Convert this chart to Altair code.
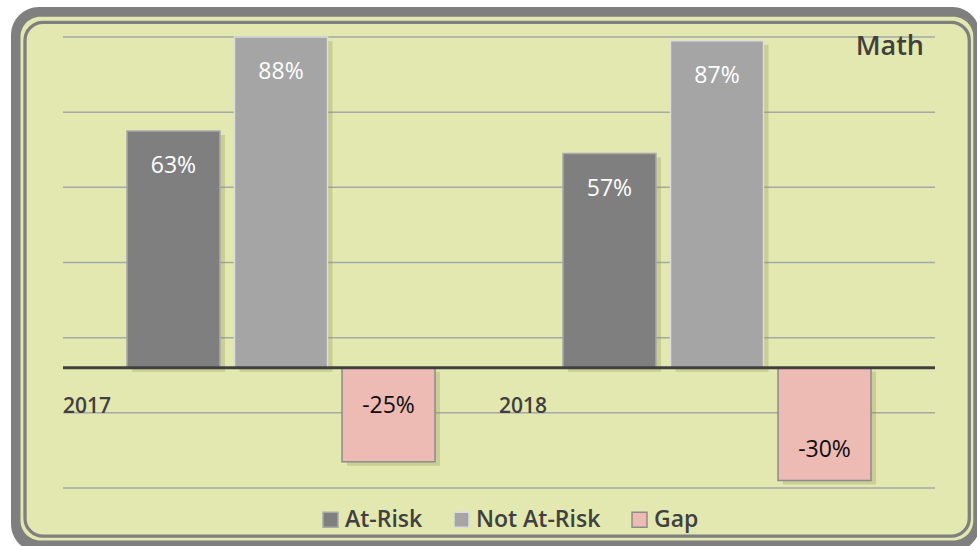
import altair as alt
import pandas as pd

# ---- data ----
years = ["2017", "2018"]
series = ["At-Risk", "Not At-Risk", "Gap"]
at_risk = [0.63, 0.57]
not_at_risk = [0.88, 0.87]
gap = [-0.25, -0.30]
grid_values = [0.88, 0.68, 0.48, 0.28, 0.08, -0.12, -0.32]
title_text = "Math"

rows = []
for i, yr in enumerate(years):
    for s, vals in zip(series, [at_risk, not_at_risk, gap]):
        rows.append({"year": yr, "series": s, "value": vals[i]})
df = pd.DataFrame(rows)
one = pd.DataFrame({"k": [0]})

# ---- styles ----
FONT = "Open Sans"
fills = ["#7F7F7F", "#A5A5A5", "#EDBAB4"]
strokes = ["#A9A9A9", "#DCDCDC", "#8C8C8C"]
BG = "#E2E8AF"
FRAME = "#7F7F7F"
TXT = "#404040"
W, H = 872, 451

yscale = alt.Scale(domain=[-0.32, 0.88], nice=False)
xscale = alt.Scale(domain=years, paddingInner=0, paddingOuter=0)


def off(shift=0):
    kw = dict(type="band", domain=series, paddingInner=0.135, paddingOuter=0.595)
    if shift:
        kw["range"] = [shift, W / 2 + shift]
    return alt.Scale(**kw)


xaxis = alt.Axis(title=None, domain=False, ticks=False, tickSize=0, grid=False,
                 labelAngle=0, labelAlign="left", labelOffset=-W / 4, offset=-120,
                 labelPadding=38, labelBaseline="middle", labelFont=FONT,
                 labelFontSize=21, labelFontWeight=600, labelColor=TXT, zindex=1)
X = alt.X("year:N", scale=xscale, axis=xaxis, sort=years)
Y = alt.Y("value:Q", scale=yscale, axis=None)


def frame_rect(x1, x2, y1, y2, **kw):
    return alt.Chart(one).mark_rect(**kw).encode(
        x=alt.value(x1), x2=alt.value(x2), y=alt.value(y1), y2=alt.value(y2))


frame_outer = frame_rect(-52, 917, -30, 515, fill=FRAME, cornerRadius=28)
frame_light = frame_rect(-42.5, 910.3, -20.3, 503.5, fill=BG, cornerRadius=20)
frame_inner = frame_rect(-38, 906.3, -14.7, 499.2, fill=BG, stroke=FRAME,
                         strokeWidth=3.3, cornerRadius=18)

grid = alt.Chart(pd.DataFrame({"g": grid_values})).mark_rule(
    color="#A4A8A6", strokeWidth=1.5).encode(
    y=alt.Y("g:Q", scale=yscale, axis=None))

shadow = alt.Chart(df).mark_bar(color="#8E9350", opacity=0.3, yOffset=4, y2Offset=4).encode(
    x=X, xOffset=alt.XOffset("series:N", scale=off(5), sort=series),
    y=Y, y2=alt.datum(0))

legend = alt.Legend(title=None, orient="none", legendX=256, legendY=471,
                    direction="horizontal", symbolType="square", symbolSize=225,
                    symbolStrokeWidth=1.5, labelFont=FONT, labelFontSize=23,
                    labelFontWeight=600, labelColor=TXT, labelOffset=3,
                    columnPadding=27)

bars = alt.Chart(df).mark_bar(strokeWidth=1.5).encode(
    x=X, xOffset=alt.XOffset("series:N", scale=off(), sort=series),
    y=Y, y2=alt.datum(0),
    color=alt.Color("series:N", scale=alt.Scale(domain=series, range=fills), legend=legend),
    stroke=alt.Stroke("series:N", scale=alt.Scale(domain=series, range=strokes), legend=legend),
)

zero = alt.Chart(one).mark_rule(color="#404040", strokeWidth=3).encode(
    y=alt.Y("z:Q", scale=yscale, axis=None)).transform_calculate(z="0")


def labels(filt, dy, color):
    return alt.Chart(df).transform_filter(filt).transform_calculate(
        lbl="replace(format(datum.value, '.0%'), '\u2212', '-')"
    ).mark_text(
        dy=dy, color=color, font=FONT, fontSize=23, baseline="middle").encode(
        x=X, xOffset=alt.XOffset("series:N", scale=off(), sort=series),
        y=Y, text=alt.Text("lbl:N"))


lab_pos = labels("datum.value > 0", 35, "white")
lab_g17 = labels("datum.value < 0 && datum.year == '2017'", -56, "#0D0D0D")
lab_g18 = labels("datum.value < 0 && datum.year == '2018'", -30, "#0D0D0D")

title = alt.Chart(pd.DataFrame({"t": [title_text]})).mark_text(
    font=FONT, fontSize=27, fontWeight=600, color=TXT, align="right",
    baseline="middle").encode(x=alt.value(861), y=alt.value(10), text="t:N")

chart = alt.layer(
    frame_outer, frame_light, frame_inner, grid, shadow, bars, zero,
    lab_pos, lab_g17, lab_g18, title
).resolve_scale(xOffset="independent").properties(
    width=W, height=H,
    padding={"left": 63, "top": 37, "right": 42, "bottom": 58},
    autosize=alt.AutoSizeParams(type="none"),
    background="white",
).configure_view(stroke=None)

chart.save("out.html", embed_options={"renderer": "svg", "actions": False})
